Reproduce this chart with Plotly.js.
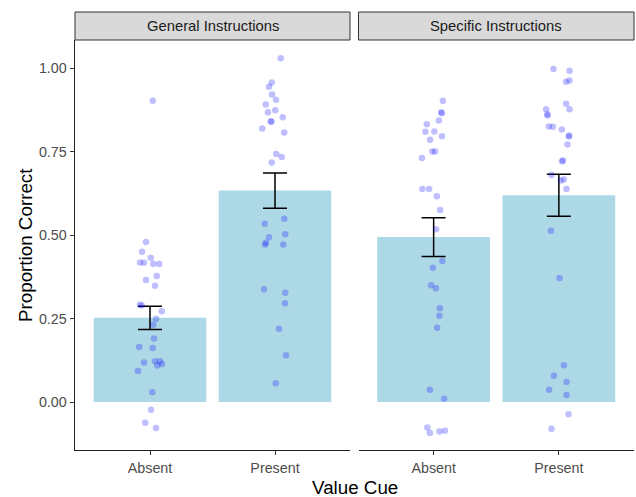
<!DOCTYPE html>
<html>
<head>
<meta charset="utf-8">
<script src="https://cdn.plot.ly/plotly-3.0.1.min.js"></script>
<style>html,body{margin:0;padding:0;background:#fff;}#chart{width:636px;height:497px;}</style>
</head>
<body>
<div id="chart"></div>
<script>
const categories = ['Absent', 'Present'];
const panels = ['General Instructions', 'Specific Instructions'];

const meanGeneral = [0.252, 0.633];
const seGeneral = [0.035, 0.053];
const meanSpecific = [0.494, 0.619];
const seSpecific = [0.058, 0.063];

// individual proportions (y) and horizontal jitter (category units)
const genAbsentY = [0.902, 0.479, 0.450, 0.432, 0.418, 0.417, 0.414, 0.413, 0.377, 0.365, 0.348, 0.291, 0.289, 0.272, 0.249, 0.231, 0.190, 0.162, 0.165, 0.122, 0.122, 0.109, 0.114, 0.118, 0.093, 0.029, -0.023, -0.062, -0.078];
const genAbsentJ = [0.022, -0.032, -0.064, 0.006, -0.080, -0.048, 0.026, 0.074, 0.054, -0.032, 0.040, -0.080, -0.066, 0.094, 0.048, 0.026, 0.032, 0.022, -0.086, 0.040, 0.080, 0.058, 0.096, -0.048, -0.096, 0.018, 0.008, -0.038, 0.048];

const genPresentY = [1.029, 0.957, 0.944, 0.921, 0.905, 0.891, 0.874, 0.868, 0.853, 0.840, 0.840, 0.819, 0.807, 0.743, 0.734, 0.717, 0.549, 0.534, 0.502, 0.493, 0.477, 0.472, 0.472, 0.338, 0.327, 0.296, 0.219, 0.140, 0.056];
const genPresentJ = [0.046, -0.026, -0.048, -0.024, 0.008, -0.074, 0.002, -0.056, 0.062, -0.034, -0.028, -0.102, 0.074, 0.010, 0.054, -0.026, 0.074, -0.082, 0.082, -0.048, -0.072, -0.080, 0.066, -0.088, 0.082, 0.080, 0.032, 0.088, 0.006];

const specAbsentY = [0.902, 0.865, 0.868, 0.843, 0.832, 0.809, 0.810, 0.796, 0.785, 0.750, 0.750, 0.731, 0.638, 0.638, 0.616, 0.575, 0.517, 0.422, 0.402, 0.350, 0.341, 0.281, 0.258, 0.222, 0.037, 0.010, -0.076, -0.093, -0.088, -0.086];
const specAbsentJ = [0.074, 0.066, 0.060, 0.042, -0.054, -0.066, 0.006, 0.066, -0.028, -0.010, 0.012, -0.094, -0.090, -0.036, 0.026, 0.052, 0.020, 0.070, -0.006, -0.020, 0.018, 0.050, 0.046, 0.028, -0.030, 0.084, -0.050, -0.030, 0.046, 0.090];

const specPresentY = [0.997, 0.992, 0.959, 0.963, 0.893, 0.877, 0.877, 0.862, 0.858, 0.825, 0.824, 0.816, 0.798, 0.795, 0.771, 0.723, 0.721, 0.680, 0.663, 0.666, 0.638, 0.513, 0.371, 0.110, 0.079, 0.060, 0.037, 0.021, -0.037, -0.080];
const specPresentJ = [-0.043, 0.085, 0.058, 0.085, 0.058, -0.102, 0.085, -0.091, -0.091, -0.080, -0.048, 0.024, 0.082, 0.080, 0.069, 0.032, 0.026, -0.059, 0.016, 0.040, 0.061, -0.064, 0.005, 0.040, -0.040, 0.061, -0.078, 0.061, 0.077, -0.059];

const yTicks = [0, 0.25, 0.5, 0.75, 1.0];

const FONT = 'Liberation Sans, Arial, sans-serif';
const barColor = '#ADD8E6';
const ptColor = 'rgba(0,0,255,0.25)';

function barTrace(means, ses, xa, ya) {
  return {
    type: 'bar', x: [0, 1], y: means, width: 0.9, xaxis: xa, yaxis: ya,
    marker: {color: barColor, line: {width: 0}},
    error_y: {type: 'data', array: ses, visible: true, color: '#000', thickness: 1.5, width: 12},
    hoverinfo: 'skip', showlegend: false
  };
}
function ptTrace(ys, js, idx, xa, ya) {
  return {
    type: 'scatter', mode: 'markers', x: ys.map((v, i) => idx + js[i]), y: ys,
    xaxis: xa, yaxis: ya,
    marker: {color: ptColor, size: 6.5, line: {width: 0}},
    hoverinfo: 'skip', showlegend: false
  };
}

const data = [
  barTrace(meanGeneral, seGeneral, 'x', 'y'),
  barTrace(meanSpecific, seSpecific, 'x2', 'y2'),
  ptTrace(genAbsentY, genAbsentJ, 0, 'x', 'y'),
  ptTrace(genPresentY, genPresentJ, 1, 'x', 'y'),
  ptTrace(specAbsentY, specAbsentJ, 0, 'x2', 'y2'),
  ptTrace(specPresentY, specPresentJ, 1, 'x2', 'y2')
];

const plotW = 636 - 75 - 2;
const d1 = [0, 275 / plotW];
const d2 = [283.5 / plotW, 1];
const yRange = [-0.1437, 1.084];
const stripTop = 1 + 28 / 410;

const xCommon = {
  range: [-0.6, 1.6], tickvals: [0, 1], ticktext: categories,
  showline: true, linecolor: '#222', linewidth: 1.4, showgrid: false, zeroline: false,
  ticks: 'outside', ticklen: 4, tickcolor: '#333', tickwidth: 1,
  tickfont: {family: FONT, size: 14.3, color: '#4D4D4D'}, fixedrange: true
};

const layout = {
  width: 636, height: 497,
  margin: {l: 75, r: 2, t: 40, b: 47},
  paper_bgcolor: '#fff', plot_bgcolor: '#fff',
  showlegend: false,
  barmode: 'overlay',
  xaxis: Object.assign({}, xCommon, {domain: d1, anchor: 'y'}),
  xaxis2: Object.assign({}, xCommon, {domain: d2, anchor: 'y2'}),
  yaxis: {
    range: yRange, tickvals: yTicks, tickformat: '.2f',
    showline: true, linecolor: '#222', linewidth: 1.4, showgrid: false, zeroline: false,
    ticks: 'outside', ticklen: 4, tickcolor: '#333', tickwidth: 1,
    tickfont: {family: FONT, size: 14.3, color: '#4D4D4D'}, anchor: 'x'
  },
  yaxis2: {
    range: yRange, showline: false, showgrid: false, zeroline: false,
    showticklabels: false, ticks: '', anchor: 'x2'
  },
  shapes: [
    {type: 'rect', xref: 'paper', yref: 'paper', x0: d1[0], x1: d1[1], y0: 1, y1: stripTop,
     fillcolor: '#D9D9D9', line: {color: '#333', width: 1}},
    {type: 'rect', xref: 'paper', yref: 'paper', x0: d2[0], x1: d2[1], y0: 1, y1: stripTop,
     fillcolor: '#D9D9D9', line: {color: '#333', width: 1}}
  ],
  annotations: [
    {text: panels[0], xref: 'paper', yref: 'paper', x: (d1[0] + d1[1]) / 2, y: (1 + stripTop) / 2,
     xanchor: 'center', yanchor: 'middle', showarrow: false, font: {family: FONT, size: 14.8, color: '#1A1A1A'}},
    {text: panels[1], xref: 'paper', yref: 'paper', x: (d2[0] + d2[1]) / 2, y: (1 + stripTop) / 2,
     xanchor: 'center', yanchor: 'middle', showarrow: false, font: {family: FONT, size: 14.8, color: '#1A1A1A'}},
    {text: 'Value Cue', xref: 'paper', yref: 'paper', x: 0.5, y: -37 / 410,
     xanchor: 'center', yanchor: 'middle', showarrow: false, font: {family: FONT, size: 18.8, color: '#000'}},
    {text: 'Proportion Correct', xref: 'paper', yref: 'paper', x: -50 / plotW, y: 0.5, textangle: -90,
     xanchor: 'center', yanchor: 'middle', showarrow: false, font: {family: FONT, size: 18.8, color: '#000'}}
  ]
};

Plotly.newPlot('chart', data, layout, {staticPlot: true, displayModeBar: false});
</script>
</body>
</html>
